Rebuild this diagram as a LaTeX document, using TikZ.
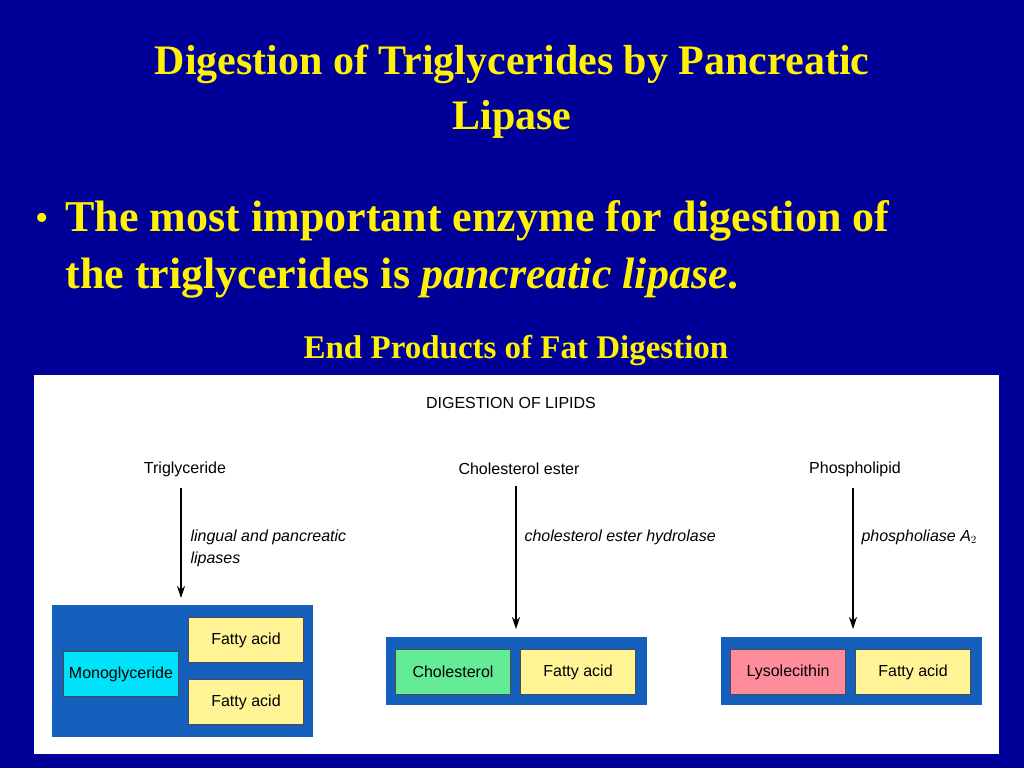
\documentclass[tikz,border=0pt]{standalone}
\usepackage{fontspec}
\setmainfont{Liberation Serif}
\setsansfont{Liberation Sans}
\usetikzlibrary{positioning, arrows.meta}
\definecolor{slide}{RGB}{0,0,153}
\definecolor{panel}{RGB}{21,96,189}
\definecolor{fa}{RGB}{255,245,150}
\definecolor{mono}{RGB}{0,225,250}
\definecolor{chol}{RGB}{100,235,150}
\definecolor{lyso}{RGB}{255,140,155}
\tikzset{
    item/.style={draw=black!70, line width=0.8pt, minimum width=115pt, minimum height=45pt,
      font=\sffamily\fontsize{16}{18}\selectfont},
    head/.style={font=\sffamily\fontsize{16}{18}\selectfont},
    enz/.style={font=\sffamily\itshape\fontsize{16}{22}\selectfont, align=left, anchor=north west},
    flow/.style={-{Stealth[length=12pt, width=8pt]}, line width=1.4pt},
}
\begin{document}
\begin{tikzpicture}[x=1pt, y=-1pt]
    \fill[slide] (0,0) rectangle (1024,768);
    \node[text=yellow, font=\bfseries\fontsize{42}{55}\selectfont, align=center] (title) at (512,92)
      {Digestion of Triglycerides by Pancreatic\\Lipase};
    \node[text=yellow, font=\fontsize{38}{57}\selectfont] (dot) at (42,222) {\textbullet};
    \node[text=yellow, font=\bfseries\fontsize{44}{57}\selectfont, align=left, anchor=west] (bullet) at (62,249)
      {The most important enzyme for digestion of\\the triglycerides is \textit{pancreatic lipase}.};
    \node[text=yellow, font=\bfseries\fontsize{33}{36}\selectfont] (sub) at (516,351) {End Products of Fat Digestion};
    \fill[white] (34,375) rectangle (999,754);
    \node[head] (ttl) at (511,403) {DIGESTION OF LIPIDS};

    % group panels
    \fill[panel] (52,605) rectangle (313,737);
    \fill[panel] (386,637) rectangle (647,705);
    \fill[panel] (721,637) rectangle (982,705);

    % triglyceride
    \node[head] (tg) at (185,469) {Triglyceride};
    \node[item, fill=fa] (fa1) at (246,640) {Fatty acid};
    \node[item, fill=fa] (fa2) at (246,702) {Fatty acid};
    \node[item, fill=mono] (mg) at (121,674) {Monoglyceride};
    \node[enz] (e1) at (187,526) {lingual and pancreatic\\lipases};

    % cholesterol ester
    \node[head] (ce) at (519,469) {Cholesterol ester};
    \node[item, fill=chol] (ch) at (453,672) {Cholesterol};
    \node[item, fill=fa] (fa3) at (578,672) {Fatty acid};
    \node[enz] (e2) at (521,526) {cholesterol ester hydrolase};

    % phospholipid
    \node[head] (pl) at (855,469) {Phospholipid};
    \node[item, fill=lyso] (ly) at (788,672) {Lysolecithin};
    \node[item, fill=fa] (fa4) at (913,672) {Fatty acid};
    \node[enz] (e3) at (858,526) {phospholiase A$_2$};

    \coordinate (a1) at (181,598);
    \coordinate (a2) at (516,629);
    \coordinate (a3) at (853,629);
    \draw[flow] (tg.south -| a1) ++(0,8) -- (a1);
    \draw[flow] (ce.south -| a2) ++(0,8) -- (a2);
    \draw[flow] (pl.south -| a3) ++(0,8) -- (a3);
\end{tikzpicture}
\end{document}
